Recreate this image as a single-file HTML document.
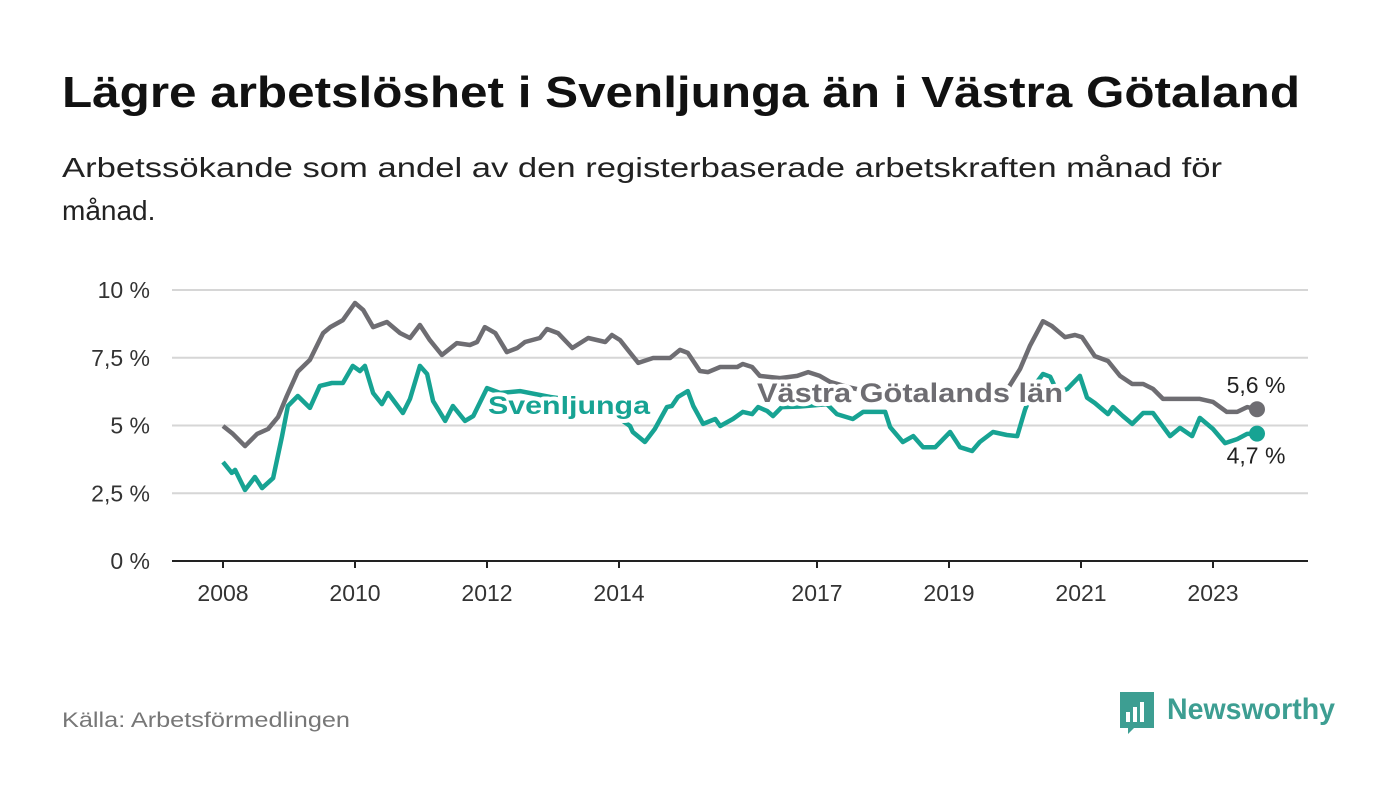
<!DOCTYPE html>
<html><head><meta charset="utf-8"><style>
html,body{margin:0;padding:0;background:#fff;}
svg{display:block;font-family:"Liberation Sans",sans-serif;}
</style></head><body>
<svg id="chart" width="1400" height="794" viewBox="0 0 1400 794">
<text x="62" y="107" font-size="44" font-weight="bold" fill="#111" textLength="1238" lengthAdjust="spacingAndGlyphs">Lägre arbetslöshet i Svenljunga än i Västra Götaland</text>
<text x="62" y="177" font-size="28" fill="#222" textLength="1160" lengthAdjust="spacingAndGlyphs">Arbetssökande som andel av den registerbaserade arbetskraften månad för</text>
<text x="62" y="220" font-size="28" fill="#222">månad.</text>
<g id="grid"></g><g id="xaxis"></g><g id="lines"></g><g id="labels"></g>
<text x="62" y="727" font-size="21" fill="#777" textLength="288" lengthAdjust="spacingAndGlyphs">Källa: Arbetsförmedlingen</text>
<g>
<path d="M1120 692 h34 v36 h-20 l-6 6 v-6 h-8 z" fill="#3d9e92"/>
<rect x="1126" y="712" width="4" height="10" fill="#fff"/><rect x="1133" y="707" width="4" height="15" fill="#fff"/><rect x="1140" y="702" width="4" height="20" fill="#fff"/>
<text x="1167" y="719" font-size="30" font-weight="bold" fill="#3d9e92" textLength="168" lengthAdjust="spacingAndGlyphs">Newsworthy</text>
</g>
</svg>
<script>
const yTicks=[0,2.5,5,7.5,10];
const yTickLabels=["0 %","2,5 %","5 %","7,5 %","10 %"];
const xTickYears=[2008,2010,2012,2014,2017,2019,2021,2023];
// months since Jan 2008
const vgMonths=[0,1.8,4,6.2,8.2,10,11.6,13.6,15.8,18.2,19.5,21.8,24,25.5,27.3,29.8,32.2,34,35.8,37.6,39.8,42.5,44.9,46.2,47.6,49.5,51.6,53.5,54.9,57.6,58.9,60.9,63.5,66.4,69.5,70.7,72.2,73.6,75.5,78.2,81.3,83.1,84.5,86.7,88.2,90.4,93.5,94.5,96.2,97.6,101.3,104.4,106.4,108.5,110.4,114,118.5,123.1,130.4,137.6,142.2,144.9,146.7,149.1,150.7,153.1,154.9,156.2,158.5,160.9,163.1,165.3,167.3,169.1,170.9,175.8,177.6,180,182.5,184.4,186.2,188];
const vgValues=[4.98,4.69,4.24,4.69,4.87,5.31,6.09,6.99,7.42,8.41,8.63,8.89,9.52,9.26,8.63,8.82,8.41,8.23,8.71,8.15,7.6,8.04,7.97,8.08,8.63,8.41,7.71,7.86,8.08,8.23,8.56,8.41,7.86,8.23,8.08,8.34,8.15,7.79,7.31,7.49,7.49,7.79,7.68,7.01,6.97,7.16,7.16,7.27,7.16,6.83,6.75,6.83,6.97,6.83,6.61,6.4,6.2,6.0,5.9,6.0,6.2,7.08,7.93,8.85,8.67,8.26,8.34,8.26,7.56,7.38,6.83,6.53,6.53,6.35,5.98,5.98,5.98,5.87,5.5,5.5,5.68,5.6];
const svMonths=[0,1.6,2.2,4,5.8,7.1,9.1,10.7,11.8,13.6,15.8,17.6,19.8,21.8,23.6,24.9,25.8,27.3,28.9,30,32.7,34,35.8,37.1,38.2,40.4,41.8,44,45.5,48,50.4,54,59.5,64.9,70.4,74,74.5,76.7,78.5,80.7,81.6,82.7,84.5,85.5,87.3,89.5,90.4,92.7,94.5,96.2,97.3,98.9,100,101.6,104.9,107.6,109.8,111.6,114.5,116.4,120.4,121.3,123.6,125.5,127.3,129.5,132.2,134,136.2,137.6,140,142.5,144.4,145.8,147.6,149.1,150.4,151.8,153.5,155.8,157.1,158.5,159.8,160.9,161.8,163.6,165.3,167.3,169.1,172.2,174,176.2,177.6,180,182.2,184.4,186.2,188];
const svValues=[3.65,3.25,3.36,2.62,3.1,2.69,3.06,4.58,5.72,6.09,5.65,6.46,6.57,6.57,7.2,7.01,7.2,6.2,5.79,6.2,5.46,5.98,7.2,6.9,5.9,5.17,5.72,5.17,5.35,6.38,6.2,6.27,6.05,5.9,5.5,4.98,4.76,4.39,4.87,5.68,5.72,6.05,6.27,5.72,5.06,5.24,4.98,5.24,5.5,5.42,5.68,5.54,5.35,5.68,5.7,5.75,5.79,5.42,5.24,5.5,5.5,4.94,4.39,4.61,4.2,4.2,4.76,4.2,4.06,4.39,4.76,4.65,4.61,5.57,6.5,6.9,6.8,6.2,6.35,6.83,6.03,5.83,5.61,5.42,5.68,5.35,5.06,5.46,5.46,4.61,4.91,4.61,5.28,4.87,4.35,4.5,4.69,4.7];
const vgLast="5,6 %", svLast="4,7 %";

const NS="http://www.w3.org/2000/svg";
const X0=223, PXM=5.5, Y0=561, PXV=27.1;
const xm=m=>X0+m*PXM, yv=v=>Y0-v*PXV;
function mk(tag,attrs,parent){const e=document.createElementNS(NS,tag);for(const k in attrs)e.setAttribute(k,attrs[k]);parent.appendChild(e);return e;}
const grid=document.getElementById('grid'),xa=document.getElementById('xaxis'),lines=document.getElementById('lines'),labels=document.getElementById('labels');
yTicks.forEach((t,i)=>{
  const l=mk('line',{x1:172,x2:1308,y1:yv(t),y2:yv(t),stroke:t===0?'#222':'#d6d6d6','stroke-width':2},grid);
  
  
  const tx=mk('text',{x:150,y:yv(t)+8,'font-size':23,fill:'#333','text-anchor':'end'},grid);
  tx.textContent=yTickLabels[i];
  
  
});
xTickYears.forEach(yr=>{
  const x=xm((yr-2008)*12);
  const tk=mk('line',{x1:x,x2:x,y1:561,y2:568,stroke:'#222','stroke-width':2},xa);
  
  
  const t=mk('text',{x:x,y:601,'font-size':23,fill:'#333','text-anchor':'middle'},xa);
  t.textContent=String(yr);
  
  
});
function path(ms,vs){return ms.map((m,i)=>(i?'L':'M')+xm(m).toFixed(1)+' '+yv(vs[i]).toFixed(1)).join(' ');}
const g1=mk('path',{d:path(vgMonths,vgValues),fill:'none',stroke:'#6e6d72','stroke-width':4.5,'stroke-linejoin':'round'},lines);


const g2=mk('path',{d:path(svMonths,svValues),fill:'none',stroke:'#17a393','stroke-width':4.5,'stroke-linejoin':'round'},lines);


const lv=vgMonths.length-1, ls=svMonths.length-1;
const d1=mk('circle',{cx:xm(vgMonths[lv]),cy:yv(vgValues[lv]),r:8,fill:'#6e6d72'},lines);


const d2=mk('circle',{cx:xm(svMonths[ls]),cy:yv(svValues[ls]),r:8,fill:'#17a393'},lines);


const v1=mk('text',{x:1256,y:yv(vgValues[lv])-16,'font-size':23,fill:'#222','text-anchor':'middle'},labels);
v1.textContent=vgLast;


const v2=mk('text',{x:1256,y:yv(svValues[ls])+30,'font-size':23,fill:'#222','text-anchor':'middle'},labels);
v2.textContent=svLast;


const s1=mk('text',{x:488,y:414,'font-size':25,'font-weight':'bold',fill:'#17a393',stroke:'#fff','stroke-width':8,'paint-order':'stroke','stroke-linejoin':'round',textLength:162,lengthAdjust:'spacingAndGlyphs'},labels);
s1.textContent='Svenljunga';


const s2=mk('text',{x:757,y:402,'font-size':27,'font-weight':'bold',fill:'#6e6d72',stroke:'#fff','stroke-width':8,'paint-order':'stroke','stroke-linejoin':'round',textLength:306,lengthAdjust:'spacingAndGlyphs'},labels);
s2.textContent='Västra Götalands län';


</script>
</body></html>
